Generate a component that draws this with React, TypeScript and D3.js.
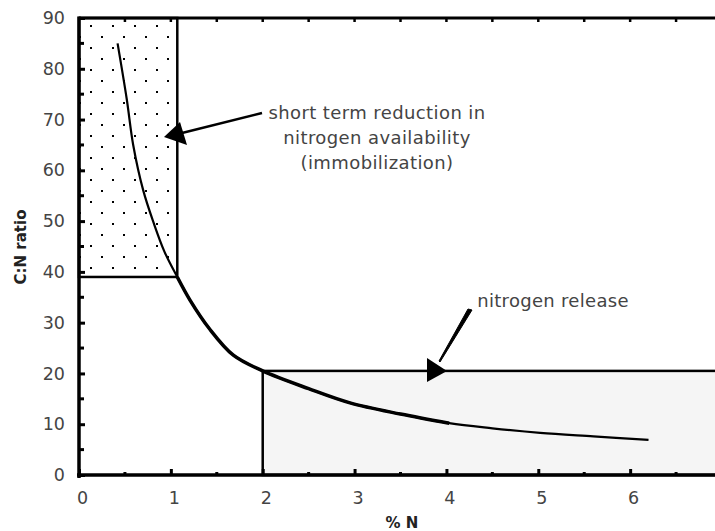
import { useEffect, useRef } from 'react'
import * as d3 from 'd3'

// C:N ratio vs % N
const pctN = [0.42, 0.52, 0.59, 0.7, 0.81, 0.93, 1.07, 1.21, 1.42, 1.68, 2.0, 2.5, 2.95, 3.5, 4.03, 4.5, 5.02, 5.6, 6.2]
const cnRatio = [85, 74, 65, 56, 49.8, 44, 39, 34.4, 28.8, 23.6, 20.5, 17, 14.2, 12, 10.2, 9.2, 8.3, 7.6, 6.9]

const xTicks = [0, 1, 2, 3, 4, 5, 6, 7]
const yTicks = [0, 10, 20, 30, 40, 50, 60, 70, 80, 90]

// shaded zones: [x0, x1, y0, y1]
const immobilZone = [0, 1.07, 39, 90]
const releaseZone = [2, 7.5, 0, 20.5]

const immobilText = ['short term reduction in', 'nitrogen availability', '(immobilization)']
const releaseText = 'nitrogen release'

const W = 715
const H = 531
const FONT = '"DejaVu Sans", sans-serif'

export default function App() {
  const svgRef = useRef<SVGSVGElement>(null)

  useEffect(() => {
    if (!svgRef.current) return
    const svg = d3.select(svgRef.current)
    svg.selectAll('*').remove()

    const x = d3.scaleLinear().domain([0, 7]).range([79, 722])
    const y = d3.scaleLinear().domain([0, 90]).range([475, 18])

    const defs = svg.append('defs')
    const pat = defs.append('pattern').attr('id', 'dots')
      .attr('patternUnits', 'userSpaceOnUse').attr('width', 22).attr('height', 22)
      .attr('x', x(0) + 11).attr('y', y(90) + 7)
    pat.append('rect').attr('x', 0).attr('y', 0).attr('width', 2).attr('height', 2).attr('fill', '#000')
    pat.append('rect').attr('x', 11).attr('y', 11).attr('width', 2).attr('height', 2).attr('fill', '#000')

    // zones
    svg.append('rect')
      .attr('x', x(immobilZone[0])).attr('y', y(immobilZone[3]))
      .attr('width', x(immobilZone[1]) - x(immobilZone[0]))
      .attr('height', y(immobilZone[2]) - y(immobilZone[3]))
      .attr('fill', 'url(#dots)').attr('stroke', '#000').attr('stroke-width', 2.5)

    svg.append('rect')
      .attr('x', x(releaseZone[0])).attr('y', y(releaseZone[3]))
      .attr('width', x(releaseZone[1]) - x(releaseZone[0]))
      .attr('height', y(releaseZone[2]) - y(releaseZone[3]))
      .attr('fill', '#f5f5f5').attr('stroke', '#000').attr('stroke-width', 2.5)

    // top frame line
    svg.append('line').attr('x1', x(0)).attr('x2', W).attr('y1', y(90)).attr('y2', y(90))
      .attr('stroke', '#000').attr('stroke-width', 3)

    // curve
    const pts: [number, number][] = pctN.map((d, i) => [d, cnRatio[i]])
    const line = d3.line<[number, number]>().x(d => x(d[0])).y(d => y(d[1])).curve(d3.curveCatmullRom)
    svg.append('path').attr('d', line(pts)).attr('fill', 'none').attr('stroke', '#000').attr('stroke-width', 2.2)
    const mid = pts.filter(p => p[0] >= 1.07 && p[0] <= 4.03)
    svg.append('path').attr('d', line(mid)).attr('fill', 'none').attr('stroke', '#000').attr('stroke-width', 3.5)

    // axes
    const gy = svg.append('g').attr('transform', `translate(${x(0)},0)`)
    gy.call(d3.axisLeft(y).tickValues(yTicks).tickSize(-6).tickPadding(14).tickFormat(d3.format('d')))
    gy.selectAll('.tick line').attr('stroke-width', 3)
    d3.range(5, 90, 10).forEach(v => {
      gy.append('line').attr('x1', 0).attr('x2', 5).attr('y1', y(v)).attr('y2', y(v)).attr('stroke', '#000').attr('stroke-width', 3)
    })
    gy.select('.domain').remove()
    gy.append('line').attr('x1', 0).attr('x2', 0).attr('y1', y(90) - 1.5).attr('y2', y(0) + 3).attr('stroke', '#000').attr('stroke-width', 3.5)

    const gx = svg.append('g').attr('transform', `translate(0,${y(0)})`)
    gx.call(d3.axisBottom(x).tickValues(xTicks).tickSize(-6).tickPadding(18).tickFormat(d3.format('d')))
    gx.selectAll('.tick line').attr('stroke-width', 3)
    d3.range(0.5, 7.5, 1).forEach(v => {
      gx.append('line').attr('x1', x(v)).attr('x2', x(v)).attr('y1', 0).attr('y2', -3).attr('stroke', '#000').attr('stroke-width', 3)
      svg.append('line').attr('x1', x(v)).attr('x2', x(v)).attr('y1', y(90)).attr('y2', y(90) + 4).attr('stroke', '#000').attr('stroke-width', 2.5)
      svg.append('line').attr('x1', x(v + 0.5)).attr('x2', x(v + 0.5)).attr('y1', y(90)).attr('y2', y(90) + 4).attr('stroke', '#000').attr('stroke-width', 2.5)
    })
    gx.select('.domain').remove()
    gx.append('line').attr('x1', x(0) - 2).attr('x2', W).attr('y1', 0).attr('y2', 0).attr('stroke', '#000').attr('stroke-width', 3.5)

    svg.selectAll('.tick text').attr('font-family', FONT).attr('font-size', 17.5).attr('fill', '#444')
    gx.selectAll('.tick text').attr('dx', 3).attr('dy', '0.65em')

    // axis titles
    svg.append('text').attr('x', 402).attr('y', 528).attr('text-anchor', 'middle')
      .attr('font-family', FONT).attr('font-weight', 'bold').attr('font-size', 15).attr('fill', '#222')
      .text('% N')
    svg.append('text').attr('transform', `translate(26,247) rotate(-90)`).attr('text-anchor', 'middle')
      .attr('font-family', FONT).attr('font-weight', 'bold').attr('font-size', 15).attr('fill', '#222')
      .text('C:N ratio')

    // annotation 1
    const t1 = svg.append('text').attr('font-family', FONT).attr('font-size', 18).attr('fill', '#444')
      .attr('letter-spacing', 0.4).attr('text-anchor', 'middle')
    immobilText.forEach((s, i) => {
      t1.append('tspan').attr('x', 377).attr('y', 119 + i * 25).text(s)
    })
    svg.append('line').attr('x1', 262).attr('y1', 113).attr('x2', 178).attr('y2', 134)
      .attr('stroke', '#000').attr('stroke-width', 2.5)
    svg.append('path').attr('d', 'M164,137 L180,122 L187,145 Z').attr('fill', '#000')

    // annotation 2
    svg.append('text').attr('x', 553).attr('y', 307).attr('text-anchor', 'middle')
      .attr('font-family', FONT).attr('font-size', 18).attr('letter-spacing', 0.3).attr('fill', '#444').text(releaseText)
    svg.append('path').attr('d', 'M468,309 L472,310 L440,362 L439,361 Z').attr('fill', '#000').attr('stroke', '#000').attr('stroke-width', 1)
    svg.append('path').attr('d', `M427,358 L447,${y(releaseZone[3])} L427,382 Z`).attr('fill', '#000')
  }, [])

  return (
    <div style={{ position: 'absolute', left: 0, top: 0, width: W, height: H, background: '#fff' }}>
      <svg ref={svgRef} width={W} height={H} style={{ display: 'block' }} />
    </div>
  )
}
